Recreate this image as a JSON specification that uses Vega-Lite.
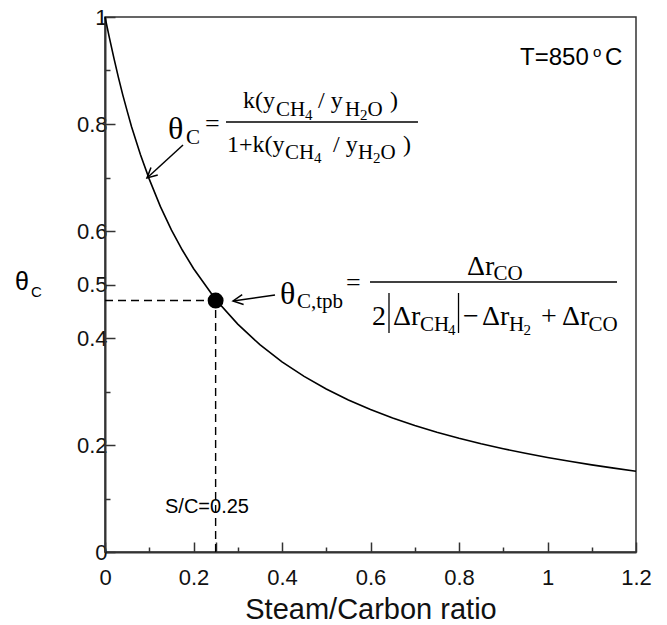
{
  "$schema": "https://vega.github.io/schema/vega-lite/v6.json",
  "width": 531,
  "height": 535,
  "autosize": {"type": "none"},
  "padding": {"left": 105, "top": 17, "right": 31, "bottom": 73},
  "background": "white",
  "config": {
    "view": {"stroke": "#333", "strokeWidth": 1.5},
    "text": {"color": "black"}
  },
  "datasets": {
    "curve": [
      {"x": 0, "y": 1}, {"x": 0.01, "y": 0.961}, {"x": 0.02, "y": 0.9235}, {"x": 0.03, "y": 0.888},
      {"x": 0.04, "y": 0.855}, {"x": 0.05, "y": 0.8245}, {"x": 0.06, "y": 0.795}, {"x": 0.08, "y": 0.743},
      {"x": 0.1, "y": 0.697}, {"x": 0.125, "y": 0.646}, {"x": 0.15, "y": 0.602}, {"x": 0.175, "y": 0.564},
      {"x": 0.2, "y": 0.53}, {"x": 0.25, "y": 0.472}, {"x": 0.3, "y": 0.426}, {"x": 0.35, "y": 0.3875},
      {"x": 0.4, "y": 0.3555}, {"x": 0.45, "y": 0.3283}, {"x": 0.5, "y": 0.3047}, {"x": 0.55, "y": 0.2843},
      {"x": 0.6, "y": 0.2664}, {"x": 0.65, "y": 0.2506}, {"x": 0.7, "y": 0.2365}, {"x": 0.75, "y": 0.224},
      {"x": 0.8, "y": 0.2126}, {"x": 0.85, "y": 0.2023}, {"x": 0.9, "y": 0.193}, {"x": 0.95, "y": 0.1845},
      {"x": 1.0, "y": 0.1767}, {"x": 1.05, "y": 0.1695}, {"x": 1.1, "y": 0.1628}, {"x": 1.15, "y": 0.1567},
      {"x": 1.2, "y": 0.151}
    ],
    "guides": [
      {"x": 0, "x2": 0.25, "y": 0.47, "y2": 0.47},
      {"x": 0.25, "x2": 0.25, "y": 0, "y2": 0.47}
    ],
    "marker": [{"x": 0.25, "y": 0.47}],
    "arrows": [
      {"x": 0.1763, "y": 0.7607, "x2": 0.0949, "y2": 0.6991},
      {"x": 0.3842, "y": 0.4804, "x2": 0.2893, "y2": 0.4692}
    ],
    "head1": [{"x": 0.0949, "y": 0.6991}],
    "head2": [{"x": 0.2893, "y": 0.4692}],
    "eqrules": [
      {"x": 0.2734, "x2": 0.7073, "y": 0.8037, "y2": 0.8037},
      {"x": 0.5989, "x2": 1.1571, "y": 0.5047, "y2": 0.5047},
      {"x": 0.6418, "x2": 0.6418, "y": 0.4841, "y2": 0.4093},
      {"x": 0.7989, "x2": 0.7989, "y": 0.4841, "y2": 0.4093}
    ],
    "eq1main": [
      {"t": "k(y", "x": 0.3119, "y": 0.8299},
      {"t": "/ y", "x": 0.4814, "y": 0.8299},
      {"t": ")", "x": 0.6441, "y": 0.8299},
      {"t": "1+k(y", "x": 0.2757, "y": 0.7477},
      {"t": "/ y", "x": 0.5153, "y": 0.7477},
      {"t": ")", "x": 0.6734, "y": 0.7477}
    ],
    "eq2main": [
      {"t": "Δr", "x": 0.8181, "y": 0.5178},
      {"t": "2", "x": 0.6034, "y": 0.4243},
      {"t": "Δr", "x": 0.6508, "y": 0.4243},
      {"t": "−", "x": 0.809, "y": 0.4243},
      {"t": "Δr", "x": 0.852, "y": 0.4243},
      {"t": "+", "x": 0.9853, "y": 0.4243},
      {"t": "Δr", "x": 1.0328, "y": 0.4243}
    ],
    "subs": [
      {"t": "C", "x": 0.1831, "y": 0.7626},
      {"t": "CH", "x": 0.3864, "y": 0.815},
      {"t": "H", "x": 0.5424, "y": 0.815},
      {"t": "O", "x": 0.5932, "y": 0.815},
      {"t": "CH", "x": 0.4068, "y": 0.7346},
      {"t": "H", "x": 0.5718, "y": 0.7346},
      {"t": "O", "x": 0.6226, "y": 0.7346},
      {"t": "C,tpb", "x": 0.4339, "y": 0.4561},
      {"t": "CO", "x": 0.878, "y": 0.5084},
      {"t": "CH", "x": 0.7119, "y": 0.4131},
      {"t": "H", "x": 0.913, "y": 0.4131},
      {"t": "CO", "x": 1.0927, "y": 0.4131}
    ],
    "subsubs": [
      {"t": "4", "x": 0.452, "y": 0.8075},
      {"t": "2", "x": 0.5763, "y": 0.8075},
      {"t": "4", "x": 0.4723, "y": 0.7271},
      {"t": "2", "x": 0.6056, "y": 0.7271},
      {"t": "4", "x": 0.7751, "y": 0.4056},
      {"t": "2", "x": 0.9458, "y": 0.4056}
    ],
    "thetas": [
      {"t": "θ", "x": 0.1424, "y": 0.772},
      {"t": "θ", "x": 0.3955, "y": 0.4636}
    ],
    "equals": [
      {"t": "=", "x": 0.226, "y": 0.8},
      {"t": "=", "x": 0.5446, "y": 0.5028}
    ],
    "sans24": [
      {"t": "T=850", "x": 0.9379, "y": 0.91},
      {"t": "C", "x": 1.1299, "y": 0.91}
    ],
    "sans15": [
      {"t": "o", "x": 1.1028, "y": 0.9252},
      {"t": "C", "x": -0.1672, "y": 0.4766}
    ],
    "sans20": [{"t": "S/C=0.25", "x": 0.1356, "y": 0.0729}],
    "sans25": [{"t": "θ", "x": -0.2034, "y": 0.4897}]
  },
  "encoding": {
    "x": {
      "field": "x", "type": "quantitative",
      "scale": {"domain": [0, 1.2], "nice": false, "zero": false},
      "axis": {
        "values": [0, 0.1, 0.2, 0.25, 0.3, 0.4, 0.5, 0.6, 0.7, 0.8, 0.9, 1, 1.1, 1.2],
        "format": "~g",
        "labelExpr": "abs(datum.value*5 - round(datum.value*5)) < 0.000001 ? datum.label : ''",
        "tickSize": {"condition": {"test": "abs(datum.value*5 - round(datum.value*5)) < 0.000001 || abs(datum.value - 0.25) < 0.000001", "value": -10}, "value": -5},
        "grid": false,
        "domainColor": "#333", "domainWidth": 2,
        "tickColor": "#333", "tickWidth": 1.5,
        "labelFont": "Liberation Sans", "labelFontSize": 22, "labelColor": "#111",
        "labelPadding": 25, "labelFlush": false, "labelOverlap": false,
        "title": "Steam/Carbon ratio",
        "titleFont": "Liberation Sans", "titleFontSize": 29, "titleFontWeight": "normal", "titleColor": "#111",
        "titlePadding": 2
      }
    },
    "y": {
      "field": "y", "type": "quantitative",
      "scale": {"domain": [0, 1], "nice": false, "zero": false},
      "axis": {
        "values": [0, 0.1, 0.2, 0.3, 0.4, 0.5, 0.6, 0.7, 0.8, 0.9, 1],
        "format": "~g",
        "labelExpr": "indexof([0, 2, 4, 5, 6, 8, 10], round(datum.value*10)) >= 0 ? datum.label : ''",
        "tickSize": {"condition": {"test": "indexof([0, 2, 4, 5, 6, 8, 10], round(datum.value*10)) >= 0", "value": -10}, "value": -5},
        "grid": false,
        "domainColor": "#333", "domainWidth": 2,
        "tickColor": "#333", "tickWidth": 1.5,
        "labelFont": "Liberation Sans", "labelFontSize": 22, "labelColor": "#111",
        "labelPadding": 8, "labelFlush": false, "labelOverlap": false,
        "title": null
      }
    }
  },
  "layer": [
    {"data": {"name": "curve"}, "mark": {"type": "line", "color": "black", "strokeWidth": 1.6}},
    {"data": {"name": "guides"}, "mark": {"type": "rule", "color": "black", "strokeWidth": 1.4, "strokeDash": [8, 5]},
     "encoding": {"x2": {"field": "x2"}, "y2": {"field": "y2"}}},
    {"data": {"name": "marker"}, "mark": {"type": "point", "shape": "circle", "filled": true, "color": "black", "size": 254, "opacity": 1}},
    {"data": {"name": "arrows"}, "mark": {"type": "rule", "color": "black", "strokeWidth": 1.5},
     "encoding": {"x2": {"field": "x2"}, "y2": {"field": "y2"}}},
    {"data": {"name": "head1"}, "mark": {"type": "point", "shape": "M-2,-1L0,0L-2,1", "filled": false, "color": "black", "strokeWidth": 1.5, "size": 100, "angle": 137.5, "opacity": 1}},
    {"data": {"name": "head2"}, "mark": {"type": "point", "shape": "M-2,-1L0,0L-2,1", "filled": false, "color": "black", "strokeWidth": 1.5, "size": 100, "angle": 171.9, "opacity": 1}},
    {"data": {"name": "eqrules"}, "mark": {"type": "rule", "color": "black", "strokeWidth": 1.3},
     "encoding": {"x2": {"field": "x2"}, "y2": {"field": "y2"}}},
    {"data": {"name": "eq1main"}, "mark": {"type": "text", "font": "Liberation Serif", "fontSize": 24, "align": "left", "baseline": "alphabetic"}, "encoding": {"text": {"field": "t"}}},
    {"data": {"name": "eq2main"}, "mark": {"type": "text", "font": "Liberation Serif", "fontSize": 28, "align": "left", "baseline": "alphabetic"}, "encoding": {"text": {"field": "t"}}},
    {"data": {"name": "subs"}, "mark": {"type": "text", "font": "Liberation Serif", "fontSize": 21, "align": "left", "baseline": "alphabetic"}, "encoding": {"text": {"field": "t"}}},
    {"data": {"name": "subsubs"}, "mark": {"type": "text", "font": "Liberation Serif", "fontSize": 15, "align": "left", "baseline": "alphabetic"}, "encoding": {"text": {"field": "t"}}},
    {"data": {"name": "thetas"}, "mark": {"type": "text", "font": "Liberation Serif", "fontSize": 32, "align": "left", "baseline": "alphabetic"}, "encoding": {"text": {"field": "t"}}},
    {"data": {"name": "equals"}, "mark": {"type": "text", "font": "Liberation Serif", "fontSize": 26, "align": "left", "baseline": "middle"}, "encoding": {"text": {"field": "t"}}},
    {"data": {"name": "sans24"}, "mark": {"type": "text", "font": "Liberation Sans", "fontSize": 24, "align": "left", "baseline": "alphabetic"}, "encoding": {"text": {"field": "t"}}},
    {"data": {"name": "sans15"}, "mark": {"type": "text", "font": "Liberation Sans", "fontSize": 15, "align": "left", "baseline": "alphabetic"}, "encoding": {"text": {"field": "t"}}},
    {"data": {"name": "sans20"}, "mark": {"type": "text", "font": "Liberation Sans", "fontSize": 20, "align": "left", "baseline": "alphabetic"}, "encoding": {"text": {"field": "t"}}},
    {"data": {"name": "sans25"}, "mark": {"type": "text", "font": "Liberation Sans", "fontSize": 25, "align": "left", "baseline": "alphabetic"}, "encoding": {"text": {"field": "t"}}}
  ]
}
